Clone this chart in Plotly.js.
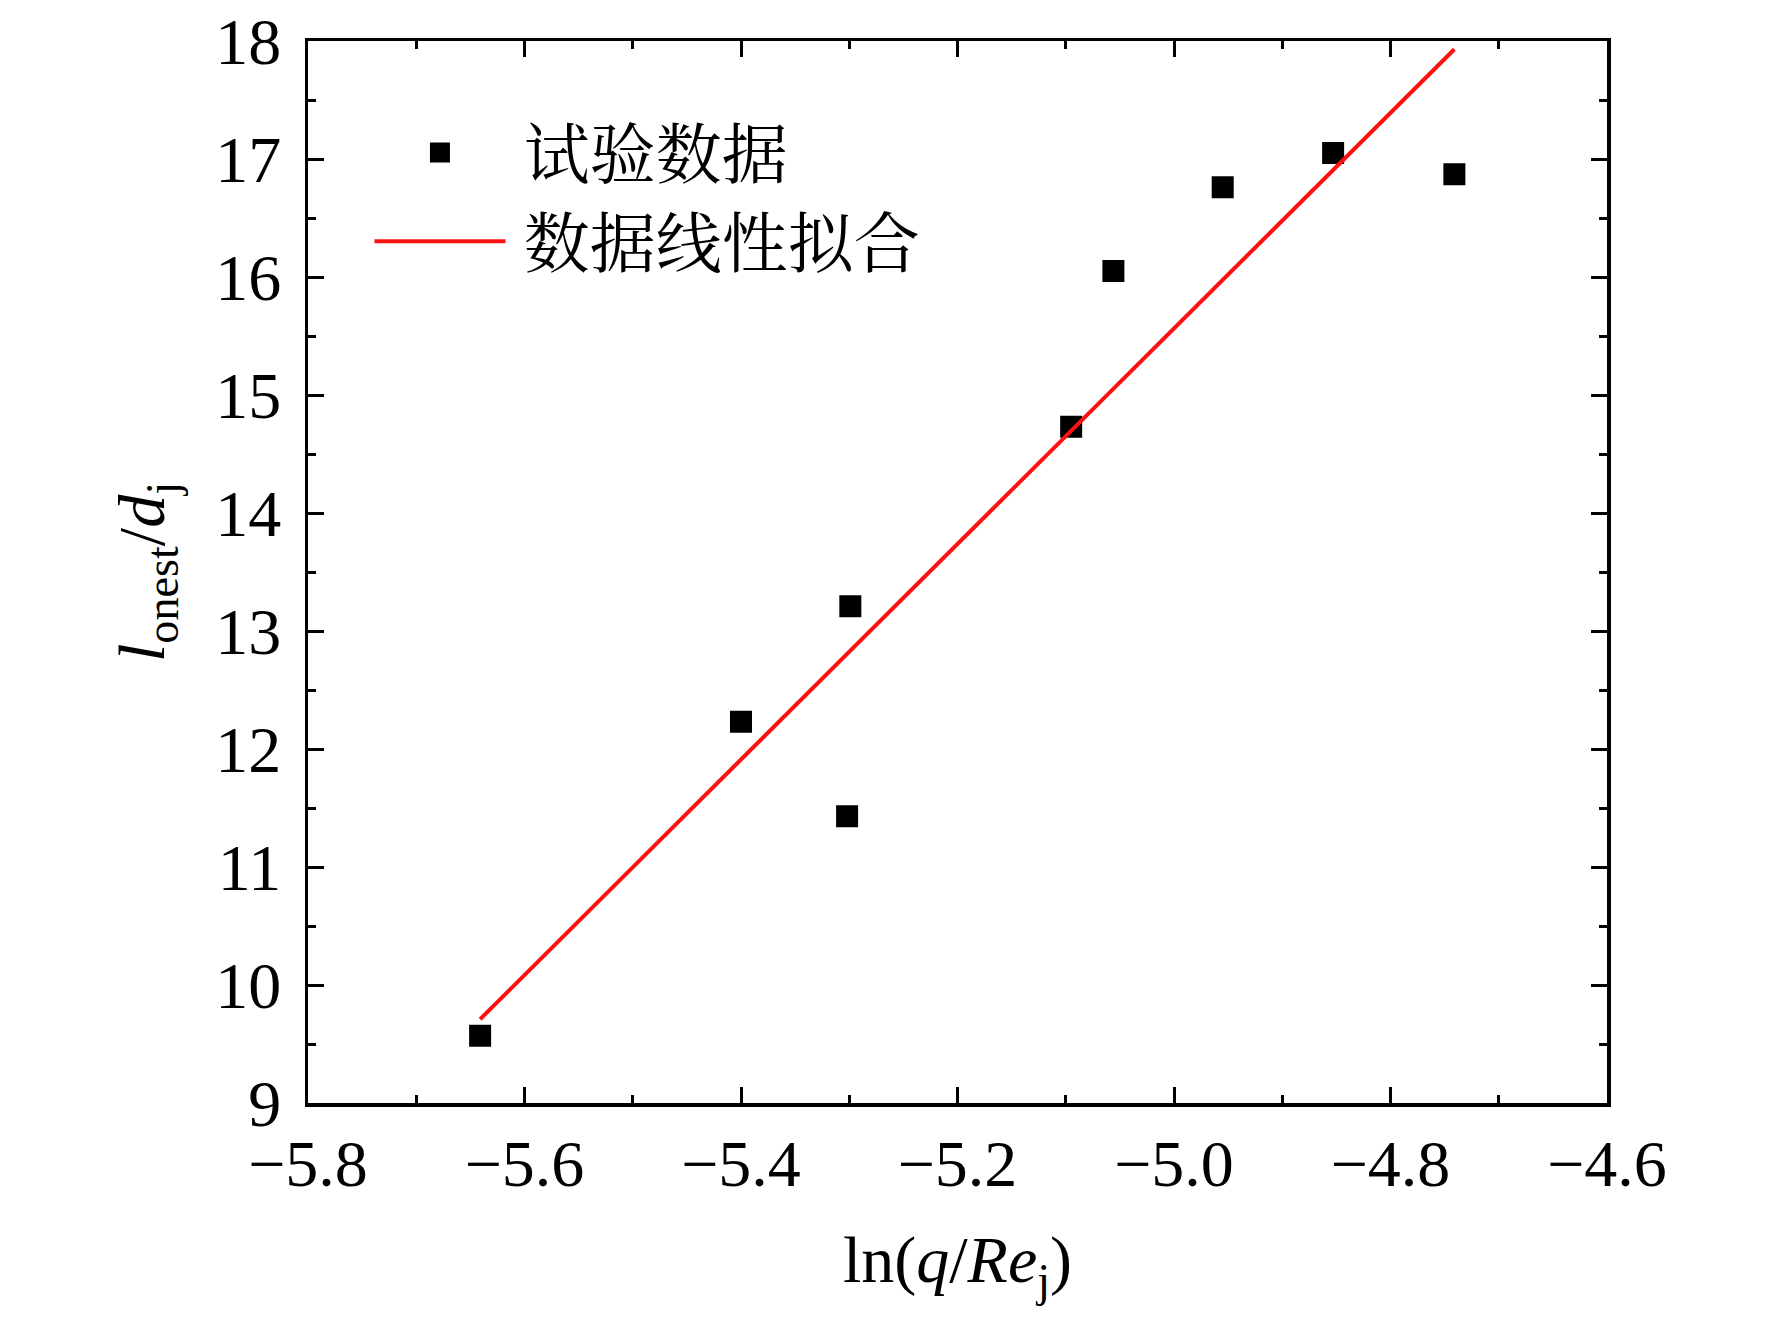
<!DOCTYPE html>
<html>
<head>
<meta charset="utf-8">
<script src="https://cdn.plot.ly/plotly-3.0.1.min.js"></script>
<style>
  html, body { margin: 0; padding: 0; background: #fff; }
  #plot { width: 1772px; height: 1323px; }
</style>
</head>
<body>
<div id="plot"></div>
<script>
// measured points, ln(q/Re_j) vs l_onest/d_j
var lnQRe   = [-5.641, -5.400, -5.299, -5.302, -5.095, -5.056, -4.955, -4.853, -4.741];
var lOnestD = [9.57, 12.23, 13.21, 11.43, 14.73, 16.05, 16.76, 17.05, 16.87];

// linear fit, read at its two ends
var fitX = [-5.641, -4.741];
var fitY = [9.71, 17.93];

var seriesNames = ['试验数据', '数据线性拟合'];

var serif = '"Liberation Serif", "Times New Roman", serif';
var cjk = '"Noto Serif CJK SC", "Noto Sans CJK SC", sans-serif';

// the black outline makes the legend square closer to the plotted ones
var points = {
    x: lnQRe,
    y: lOnestD,
    name: '\u2009' + seriesNames[0],
    mode: 'markers',
    type: 'scatter',
    marker: { symbol: 'square', size: 18, color: '#000', line: { width: 4, color: '#000' } }
};

var fit = {
    x: fitX,
    y: fitY,
    name: '\u2009' + seriesNames[1],
    mode: 'lines',
    type: 'scatter',
    line: { color: '#ff1010', width: 4 }
};

// shared axis look: box frame, inside ticks on all sides
function axisStyle(extra) {
    var a = {
        showline: true,
        linecolor: '#000',
        linewidth: 3.5,
        mirror: 'allticks',
        ticks: 'inside',
        ticklen: 16,
        tickwidth: 3,
        tickcolor: '#000',
        showgrid: false,
        zeroline: false,
        tickfont: { family: serif, size: 66, color: '#000' }
    };
    for (var k in extra) { a[k] = extra[k]; }
    return a;
}

var layout = {
    width: 1772,
    height: 1323,
    margin: { l: 308, r: 165, t: 41, b: 220 },
    paper_bgcolor: '#fff',
    plot_bgcolor: '#fff',
    showlegend: true,
    legend: {
        x: 0.0473, y: 0.9416,
        xanchor: 'left', yanchor: 'top',
        bgcolor: 'rgba(0,0,0,0)',
        borderwidth: 0,
        itemwidth: 131,
        font: { family: cjk, size: 66, color: '#000' }
    },
    xaxis: axisStyle({
        range: [-5.8, -4.6],
        tick0: -5.8,
        dtick: 0.2,
        tickformat: '.1f',
        ticklabelstandoff: 0,
        minor: { ticks: 'inside', ticklen: 8, tickwidth: 3, tickcolor: '#000', dtick: 0.1, showgrid: false },
        title: {
            text: 'ln(<i>q</i>/<i>Re</i><sub>j</sub>)',
            font: { family: serif, size: 66, color: '#000' },
            standoff: 38
        }
    }),
    yaxis: axisStyle({
        range: [9, 18],
        tick0: 9,
        dtick: 1,
        ticklabelstandoff: 10,
        minor: { ticks: 'inside', ticklen: 8, tickwidth: 3, tickcolor: '#000', dtick: 0.5, showgrid: false },
        title: {
            text: '<i>l</i><sub>onest</sub>/<i>d</i><sub>j</sub>',
            font: { family: serif, size: 66, color: '#000' },
            standoff: 30
        }
    })
};

Plotly.newPlot('plot', [points, fit], layout, { staticPlot: true });
</script>
</body>
</html>
